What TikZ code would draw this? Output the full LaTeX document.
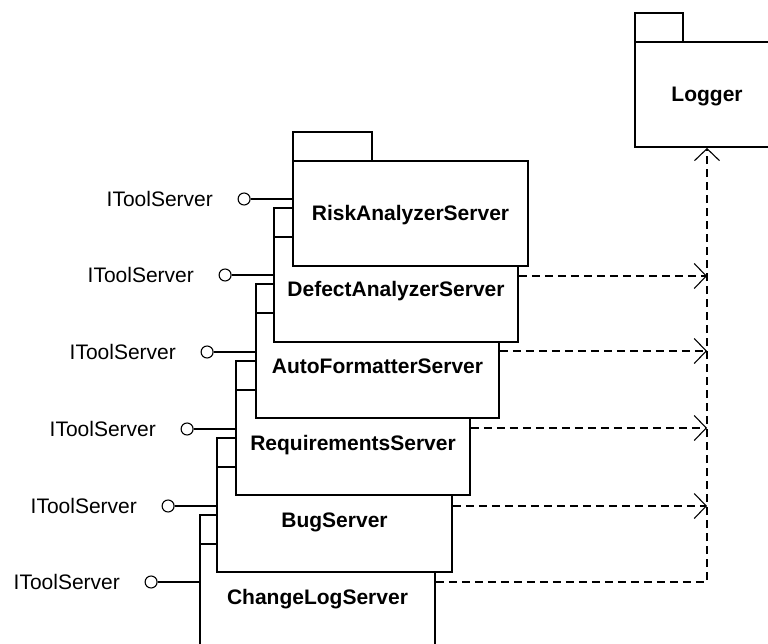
\documentclass[tikz,border=0pt]{standalone}
\usepackage{fontspec}
\setmainfont{Liberation Sans}
\usetikzlibrary{arrows.meta}

\tikzset{
  pkgbody/.style={draw, fill=white, line width=1.8pt, inner sep=0pt,
    minimum height=105pt, text height=15pt, text depth=0pt,
    font=\fontsize{21}{25}\selectfont\bfseries},
  pkgtab/.style={draw, fill=white, line width=1.8pt},
  lolly/.style={circle, draw, fill=white, line width=1.1pt, minimum size=12pt, inner sep=0pt},
  lollyline/.style={line width=1.1pt},
  iface/.style={anchor=east, inner sep=0pt, text height=15pt, text depth=0pt,
    font=\fontsize{21}{25}\selectfont},
  dep/.style={line width=1.1pt, dash pattern=on 8pt off 5pt},
  deptip/.style={-{Straight Barb[length=12pt, width=25pt, line width=1.1pt]}}
}

% package box: #1 name, #2 left, #3 top, #4 width, #5 tab width, #6 label
\newcommand{\pkgbox}[6]{%
  \draw[pkgtab] (#2,#3) rectangle ++(#5,-29);
  \node[pkgbody, minimum width=#4pt] (#1) at ({#2+#4/2},{#3+52.5}) {#6};
}

% provided interface: #1 name, #2 package, #3 y of the lollipop
\newcommand{\lollipop}[3]{%
  \node[lolly] (#1) at ([xshift=-48pt]#2.west |- 0,#3) {};
  \node[iface] (#1l) at ([xshift=-31pt]#1.center) {IToolServer};
  \draw[lollyline] (#1.east) -- (#2.west |- #1);
}

\begin{document}
\begin{tikzpicture}[x=1pt, y=-1pt]
\useasboundingbox (0,0) rectangle (768,644);

% Logger package
\pkgbox{logger}{635}{42}{144}{48}{Logger}

% server packages, back to front
\pkgbox{changelog}{200}{544}{235}{79}{ChangeLogServer}
\pkgbox{bug}{217}{467}{235}{79}{BugServer}
\pkgbox{req}{236}{390}{234}{79}{RequirementsServer}
\pkgbox{auto}{256}{313}{243}{79}{AutoFormatterServer}
\pkgbox{defect}{274}{237}{244}{79}{DefectAnalyzerServer}
\pkgbox{risk}{293}{161}{235}{79}{RiskAnalyzerServer}

% IToolServer interfaces
\lollipop{iRisk}{risk}{199}
\lollipop{iDefect}{defect}{275}
\lollipop{iAuto}{auto}{352}
\lollipop{iReq}{req}{429}
\lollipop{iBug}{bug}{506}
\lollipop{iChange}{changelog}{582}

% dependencies on Logger
\coordinate (jDefect) at (707,276);
\coordinate (jAuto)   at (707,351);
\coordinate (jReq)    at (707,428);
\coordinate (jBug)    at (707,506);
\coordinate (jChange) at (707,582);

\draw[dep, deptip] (defect.east |- jDefect) -- (jDefect);
\draw[dep, deptip] (auto.east |- jAuto) -- (jAuto);
\draw[dep, deptip] (req.east |- jReq) -- (jReq);
\draw[dep, deptip] (bug.east |- jBug) -- (jBug);
\draw[dep, deptip] (changelog.east |- jChange) -- (jChange) -- (logger.south);
\end{tikzpicture}
\end{document}
